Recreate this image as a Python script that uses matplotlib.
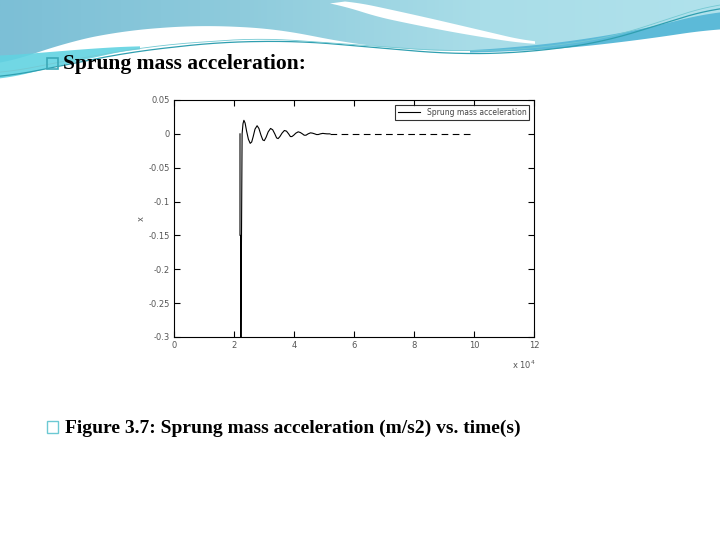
import numpy as np
import matplotlib.pyplot as plt
from matplotlib.patches import Polygon, Rectangle
from matplotlib.colors import LinearSegmentedColormap

# ---- Datos (tiempo en unidades de 1e4) ----
t_osc = [2.20, 2.20, 2.22, 2.23, 2.25, 2.27, 2.30, 2.33, 2.37, 2.42, 2.48, 2.54, 2.59,
         2.64, 2.70, 2.77, 2.83, 2.90, 2.96, 3.01, 3.07, 3.14, 3.22, 3.29, 3.36,
         3.42, 3.47, 3.53, 3.60, 3.68, 3.75, 3.82, 3.88, 3.93, 3.99, 4.06, 4.14,
         4.21, 4.28, 4.34, 4.40, 4.47, 4.55, 4.62, 4.69, 4.75, 4.81, 4.88, 4.96,
         5.03, 5.10, 5.20]
a_osc = [0.0, -0.15, -0.15, -0.30, -0.15, 0.0, 0.015, 0.020, 0.016, 0.004, -0.008,
         -0.014, -0.012, -0.004, 0.007, 0.012, 0.008, -0.002, -0.009, -0.010, -0.005,
         0.003, 0.008, 0.006, 0.0, -0.006, -0.007, -0.004, 0.001, 0.005, 0.004,
         0.0, -0.004, -0.004, -0.002, 0.001, 0.003, 0.002, 0.0, -0.002, -0.002,
         0.0, 0.0015, 0.001, 0.0, -0.001, -0.001, 0.0, 0.0007, 0.0003, 0.0, 0.0]
t_flat = [5.20, 10.0]
a_flat = [0.0, 0.0]

x_ticks = [0, 2, 4, 6, 8, 10, 12]
x_ticklabels = ['0', '2', '4', '6', '8', '10', '12']
y_ticks = [-0.3, -0.25, -0.2, -0.15, -0.1, -0.05, 0, 0.05]
y_ticklabels = ['-0.3', '-0.25', '-0.2', '-0.15', '-0.1', '-0.05', '0', '0.05']

title_text = "Sprung mass acceleration:"
caption_text = "Figure 3.7: Sprung mass acceleration (m/s2) vs. time(s)"
legend_text = "Sprung mass acceleration"


def curve(points, n=300):
    """Curva suave (decorativa) a partir de puntos de control."""
    px = np.array([p[0] for p in points], dtype=float)
    py = np.array([p[1] for p in points], dtype=float)
    xs = np.linspace(px[0], px[-1], n)
    ys = np.interp(xs, px, py)
    k = 15
    pad = np.pad(ys, k, mode='edge')
    ys = np.convolve(pad, np.ones(2 * k + 1) / (2 * k + 1), mode='same')[k:-k]
    return np.column_stack([xs, ys])


fig = plt.figure(figsize=(7.2, 5.4), dpi=100)

# ---- Fondo de la diapositiva ----
bg = fig.add_axes([0, 0, 1, 1], zorder=0)
bg.set_xlim(0, 720)
bg.set_ylim(540, 0)
bg.axis('off')

top_edge = curve([(0, 66), (60, 44), (120, 31), (200, 25), (280, 29), (340, 42),
                  (400, 49), (470, 52), (540, 46), (620, 35), (720, 20)])
top_poly = np.vstack([[[0, 0]], top_edge, [[720, 0]]])
top_patch = Polygon(top_poly, closed=True, facecolor='none', edgecolor='none')
bg.add_patch(top_patch)
grad = np.linspace(0, 1, 256)[None, :]
cmap_bg = LinearSegmentedColormap.from_list('bg', ['#7cbfd6', '#8ecbdc', '#a9dde8', '#b0e2ec'])
im = bg.imshow(grad, extent=[0, 720, 90, 0], cmap=cmap_bg, aspect='auto', zorder=1)
im.set_clip_path(top_patch)

# franja blanca superior
up = curve([(345, 0), (360, 3), (420, 16), (480, 30), (535, 43)], n=100)
lo = curve([(330, 0), (360, 13), (420, 26), (480, 37), (535, 45)], n=100)
bg.add_patch(Polygon(np.vstack([up, lo[::-1]]), closed=True, facecolor='white',
                     edgecolor='none', zorder=2))

# banda cian a la izquierda
cy_up = curve([(0, 56), (50, 52), (100, 48), (140, 46)], n=80)
cy_lo = curve([(0, 80), (50, 68), (100, 56), (140, 48)], n=80)
bg.add_patch(Polygon(np.vstack([cy_up, cy_lo[::-1]]), closed=True, facecolor='#62d3e2',
                     edgecolor='none', zorder=2, alpha=0.9))

# barrido azul a la derecha
sw_up = curve([(470, 51), (560, 43), (640, 30), (720, 10)], n=100)
sw_lo = curve([(470, 53), (560, 49), (640, 40), (720, 28)], n=100)
bg.add_patch(Polygon(np.vstack([sw_up, sw_lo[::-1]]), closed=True, facecolor='#5cbad8',
                     edgecolor='none', zorder=2))

# líneas finas
l1 = curve([(0, 78), (60, 66), (130, 52), (220, 42), (300, 41), (380, 48), (450, 54),
            (520, 53), (600, 43), (720, 6)])
l2 = curve([(0, 74), (80, 58), (160, 45), (260, 38), (360, 45), (440, 51), (520, 50),
            (610, 38), (720, 2)])
bg.plot(l1[:, 0], l1[:, 1], color='#2f9fb0', lw=0.9, zorder=3)
bg.plot(l2[:, 0], l2[:, 1], color='#74c9d3', lw=0.6, zorder=3)

# viñetas y textos
bg.add_patch(Rectangle((47, 58), 11, 11, facecolor='none', edgecolor='#3aa9b8', lw=1.2, zorder=4))
bg.text(63, 64, title_text, fontsize=15.5, fontweight='bold', family='Liberation Serif',
        va='center', ha='left', zorder=4)
bg.add_patch(Rectangle((47, 421), 11, 12, facecolor='none', edgecolor='#6cc9d3', lw=1.0, zorder=4))
bg.text(65, 428, caption_text, fontsize=14, fontweight='bold', family='Liberation Serif',
        va='center', ha='left', zorder=4)

# ---- Gráfica de aceleración ----
ax = fig.add_axes([174 / 720, (540 - 337) / 540, 360 / 720, 237 / 540], zorder=5)
ax.plot(t_osc, a_osc, color='black', lw=0.8, label=legend_text)
ax.plot(t_flat, a_flat, color='black', lw=0.8, dashes=(6, 4))
ax.set_xlim(0, 12)
ax.set_ylim(-0.3, 0.05)
ax.set_xticks(x_ticks)
ax.set_xticklabels(x_ticklabels)
ax.set_yticks(y_ticks)
ax.set_yticklabels(y_ticklabels)
ax.tick_params(direction='in', length=4, width=0.8, top=True, right=True,
               labelsize=6, labelcolor='#555555', pad=3)
for s in ax.spines.values():
    s.set_linewidth(0.8)
ax.set_ylabel('x', fontsize=6, color='#555555', labelpad=2)
ax.text(0.94, -0.09, r'x 10$^4$', transform=ax.transAxes, fontsize=6,
        color='#555555', ha='left', va='top')
leg = ax.legend(loc='upper right', fontsize=5.5, frameon=True, fancybox=False,
                handlelength=3, borderpad=0.4, borderaxespad=0.6)
leg.get_frame().set_edgecolor('black')
leg.get_frame().set_linewidth(0.8)
for txt in leg.get_texts():
    txt.set_color('#444444')

fig.savefig('out.png', dpi=100)
